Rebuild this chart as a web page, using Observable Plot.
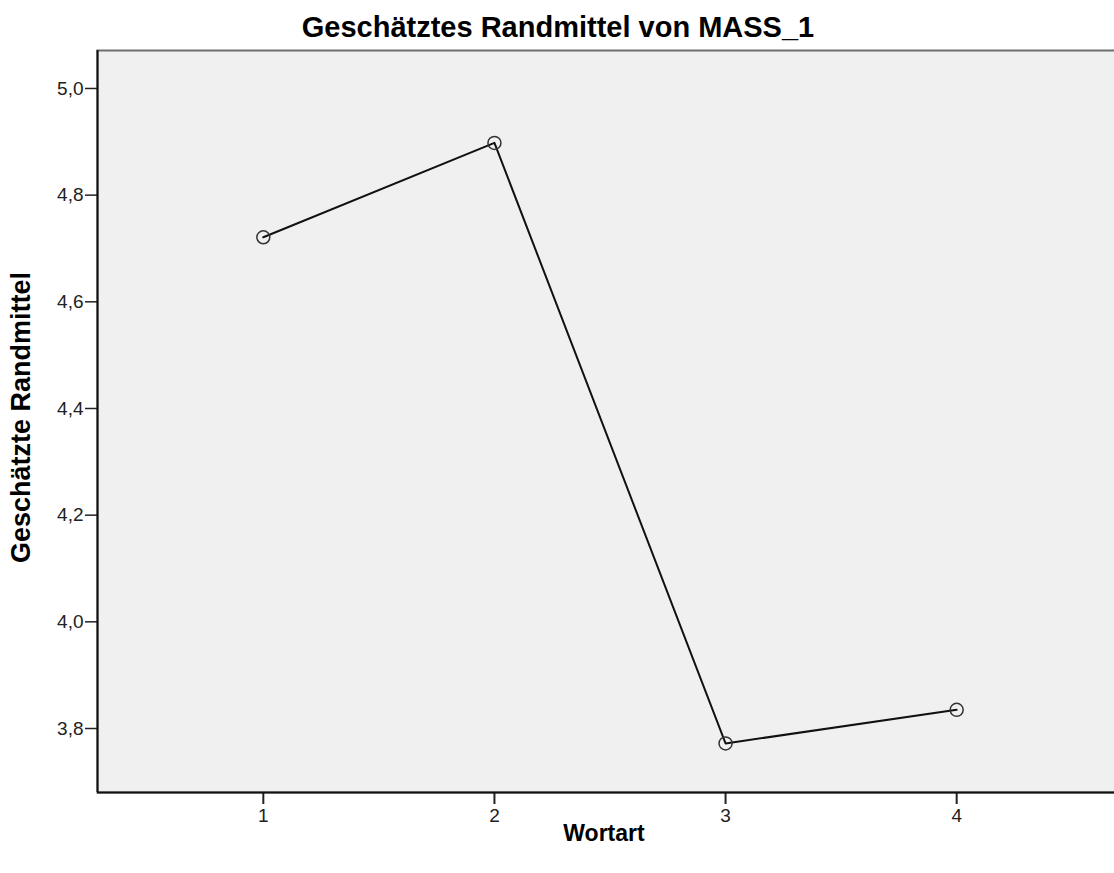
<!DOCTYPE html>
<html>
<head>
<meta charset="utf-8">
<script src="https://cdn.jsdelivr.net/npm/d3@7"></script>
<script src="https://cdn.jsdelivr.net/npm/@observablehq/plot@0.6"></script>
<style>
  html, body { margin: 0; padding: 0; background: #fff; overflow: hidden; width: 1114px; height: 873px; }
  #wrap { position: relative; width: 1114px; height: 873px; overflow: hidden; }
  #title { position: absolute; left: 0; top: 10px; width: 1116px; text-align: center;
           font: bold 29px "Liberation Sans", Arial, sans-serif; color: #000; line-height: 34px; }
  #chart { position: absolute; left: 0; top: 0; }
  #chart svg { max-width: none !important; }
</style>
</head>
<body>
<div id="wrap">
  <div id="chart"></div>
  <div id="title">Geschätztes Randmittel von MASS_1</div>
</div>
<script>
const wortart = [1, 2, 3, 4];
const randmittel = [4.721, 4.898, 3.772, 3.835];
const yTicks = [3.8, 4.0, 4.2, 4.4, 4.6, 4.8, 5.0];
const xTicks = [1, 2, 3, 4];
const titleText = "Geschätztes Randmittel von MASS_1";
const xLabel = "Wortart";
const yLabel = "Geschätzte Randmittel";

const data = wortart.map((w, i) => ({wortart: w, mittel: randmittel[i]}));
const fmt = d => d.toFixed(1).replace(".", ",");

const chart = Plot.plot({
  width: 1122,
  height: 873,
  marginTop: 50,
  marginBottom: 81,
  marginLeft: 97,
  marginRight: 0,
  style: {fontFamily: "'Liberation Sans', Arial, sans-serif", fontSize: "19px", background: "transparent", color: "#000", maxWidth: "none"},
  x: {domain: [0.2825, 4.7175]},
  y: {domain: [3.68, 5.0712]},
  marks: [
    Plot.frame({fill: "#f0f0f0", stroke: "#6e6e6e", strokeWidth: 2}),
    Plot.axisX(xTicks, {tickSize: 12, tickPadding: 4, fontSize: 19, strokeWidth: 2, stroke: "#222", fill: "#222", label: null, tickFormat: d => String(d)}),
    Plot.axisY(yTicks, {tickSize: 12, tickPadding: 2, fontSize: 19, strokeWidth: 1.5, stroke: "#222", fill: "#222", label: null, tickFormat: fmt}),
    Plot.ruleX([0.2825], {stroke: "#111", strokeWidth: 2}),
    Plot.ruleY([3.68], {stroke: "#111", strokeWidth: 2}),
    Plot.line(data, {x: "wortart", y: "mittel", stroke: "#111", strokeWidth: 2}),
    Plot.dot(data, {x: "wortart", y: "mittel", r: 6.5, stroke: "#333", strokeWidth: 1.5, fill: "none"}),
    Plot.text([xLabel], {frameAnchor: "bottom", lineAnchor: "middle", textAnchor: "middle", dy: 41, dx: -6, fontSize: 23, fontWeight: "bold", fill: "#000"}),
    Plot.text([yLabel], {frameAnchor: "left", lineAnchor: "middle", textAnchor: "middle", dx: -76, dy: -4, rotate: -90, fontSize: 27, fontWeight: "bold", fill: "#000"})
  ]
});
document.getElementById("chart").appendChild(chart);
</script>
</body>
</html>
